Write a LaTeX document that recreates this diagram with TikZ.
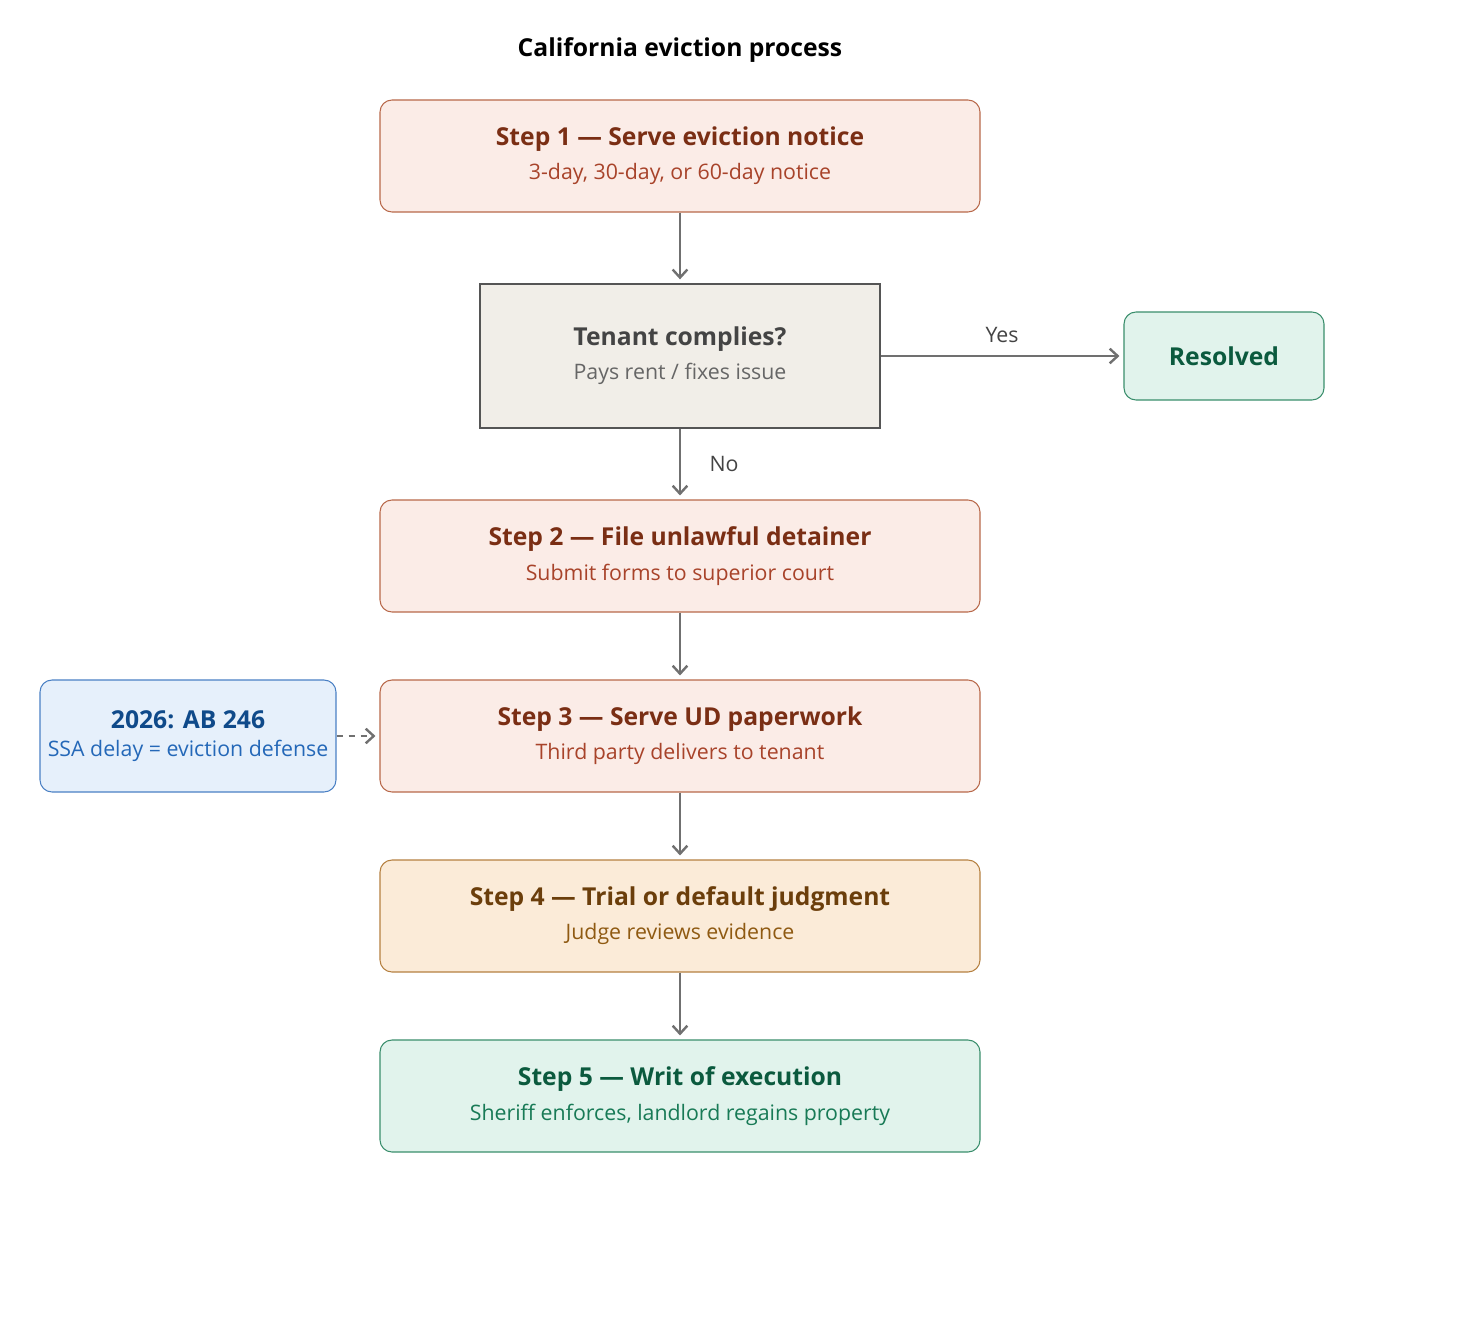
\documentclass[tikz,border=0pt]{standalone}
\usepackage{fontspec}
\setmainfont{Open Sans}
\usetikzlibrary{arrows.meta}
\definecolor{rf}{HTML}{FBECE7}\definecolor{rs}{HTML}{B8684A}\definecolor{rt}{HTML}{7A2E14}\definecolor{rb}{HTML}{A8432A}
\definecolor{of}{HTML}{FBEBD8}\definecolor{os}{HTML}{B58040}\definecolor{ot}{HTML}{6B3E0B}\definecolor{ob}{HTML}{8F5A12}
\definecolor{gf}{HTML}{E1F3EC}\definecolor{gs}{HTML}{3A8E6C}\definecolor{gt}{HTML}{0B5A3E}\definecolor{gb}{HTML}{187A56}
\definecolor{bf}{HTML}{E6F0FB}\definecolor{bs}{HTML}{4A80C4}\definecolor{bt}{HTML}{0F4A8A}\definecolor{bb}{HTML}{2468B8}
\definecolor{df}{HTML}{F1EEE8}\definecolor{ds}{HTML}{555555}\definecolor{dt}{HTML}{444444}\definecolor{db}{HTML}{666666}
\definecolor{ar}{HTML}{707070}
\newcommand\mytt{\fontsize{18.5}{22}\selectfont\bfseries}
\newcommand\myst{\fontsize{16}{19}\selectfont}
\begin{document}
\begin{tikzpicture}[x=0.75pt,y=-0.75pt,
 box/.style={draw=#1s,fill=#1f,rounded corners=9pt,line width=0.8pt,minimum width=450pt,minimum height=84pt,align=center,inner sep=0pt},
 lbl/.style={text=dt,font=\myst},
 arr/.style={draw=ar,line width=1.8pt,shorten >=3pt,-{Straight Barb[length=6pt,width=11pt]}}]
\useasboundingbox (0,0) rectangle (1472,1320);
\node[font=\mytt] (title) at (680,50) {California eviction process};
\node[box=r] (s1) at (680,156) {\textcolor{rt}{\mytt Step 1 — Serve eviction notice}\\[8pt]\textcolor{rb}{\myst 3-day, 30-day, or 60-day notice}};
\node[draw=ds,fill=df,line width=1pt,minimum width=300pt,minimum height=108pt,align=center,inner sep=0pt] (d) at (680,356) {\textcolor{dt}{\mytt Tenant complies?}\\[8pt]\textcolor{db}{\myst Pays rent / fixes issue}};
\node[box=g,minimum width=150pt,minimum height=66pt] (res) at (1224,356) {\textcolor{gt}{\mytt Resolved}};
\node[box=r] (s2) at (680,556) {\textcolor{rt}{\mytt Step 2 — File unlawful detainer}\\[8pt]\textcolor{rb}{\myst Submit forms to superior court}};
\node[box=r] (s3) at (680,736) {\textcolor{rt}{\mytt Step 3 — Serve UD paperwork}\\[8pt]\textcolor{rb}{\myst Third party delivers to tenant}};
\node[box=o] (s4) at (680,916) {\textcolor{ot}{\mytt Step 4 — Trial or default judgment}\\[8pt]\textcolor{ob}{\myst Judge reviews evidence}};
\node[box=g] (s5) at (680,1096) {\textcolor{gt}{\mytt Step 5 — Writ of execution}\\[8pt]\textcolor{gb}{\myst Sheriff enforces, landlord regains property}};
\node[box=b,minimum width=222pt] (ab) at (188,736) {\textcolor{bt}{\mytt 2026: AB 246}\\[8pt]\textcolor{bb}{\myst SSA delay = eviction defense}};
\draw[arr] (s1) -- (d);
\draw[arr] (d) -- node[right,xshift=18pt,lbl]{No} (s2);
\draw[arr] (d) -- node[above,yshift=6pt,lbl]{Yes} (res);
\draw[arr] (s2) -- (s3);
\draw[arr] (s3) -- (s4);
\draw[arr] (s4) -- (s5);
\draw[arr,dash pattern=on 5pt off 4pt] (ab) -- (s3);
\end{tikzpicture}
\end{document}
